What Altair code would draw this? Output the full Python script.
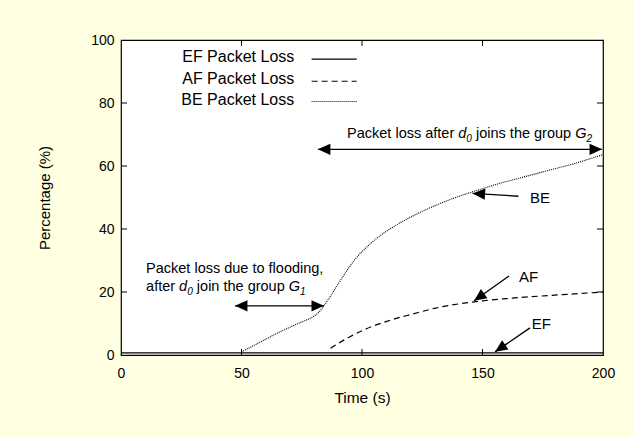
import math
import altair as alt
import pandas as pd

# Packet loss over time (time in s, loss in %)
ef_time = [0, 200]
ef_loss = [0.7, 0.7]

af_time = [87, 90, 95, 100, 105, 110, 115, 120, 130, 140, 150, 160, 170, 180, 190, 200]
af_loss = [2.1, 3.6, 5.8, 7.7, 9.3, 10.6, 11.8, 12.8, 14.8, 16.2, 17.2, 17.9, 18.5, 19.0, 19.5, 20.0]

be_time = [50, 55, 60, 65, 70, 75, 80, 82, 84, 86, 88, 90, 92, 95, 97, 100, 103, 106, 110, 115,
           120, 125, 130, 135, 140, 145, 150, 155, 160, 165, 170, 175, 180, 185, 190, 195, 200]
be_loss = [1.0, 3.0, 5.0, 7.0, 8.8, 10.5, 12.3, 13.5, 15.4, 17.6, 20.0, 22.4, 24.8, 28.2, 30.3,
           32.8, 35.0, 37.0, 39.2, 41.6, 43.7, 45.6, 47.3, 48.9, 50.3, 51.6, 52.8, 54.0, 55.1,
           56.1, 57.1, 58.1, 59.1, 60.1, 61.2, 62.4, 63.6]

x_labels = [0, 50, 100, 150, 200]
y_labels = [0, 20, 40, 60, 80, 100]
x_inner_ticks = [50, 100, 150]
y_inner_ticks = [20, 40, 60, 80]

series_names = ["EF Packet Loss", "AF Packet Loss", "BE Packet Loss"]

W, H = 482, 315
X_MAX, Y_MAX = 200, 100
FONT = "Liberation Sans"
BG = "#FFFFE1"

xs = alt.Scale(domain=[0, X_MAX], nice=False, zero=False)
ys = alt.Scale(domain=[0, Y_MAX], nice=False, zero=False)
x_axis = alt.Axis(values=x_labels, ticks=False, tickSize=0, domain=False, grid=False,
                  labelFontSize=14, labelPadding=11, labelFont=FONT, labelColor="black",
                  labelFlush=False,
                  title="Time (s)", titleFont=FONT, titleFontSize=15.5, titleFontWeight="normal",
                  titleColor="black", titleX=W / 2, titleY=42, titleAlign="center",
                  titleBaseline="middle")
y_axis = alt.Axis(values=y_labels, ticks=False, tickSize=0, domain=False, grid=False,
                  labelFontSize=14, labelPadding=7, labelFont=FONT, labelColor="black",
                  labelFlush=False,
                  title="Percentage (%)", titleFont=FONT, titleFontSize=15, titleFontWeight="normal",
                  titleColor="black", titleX=-77, titleY=H / 2, titleAngle=270,
                  titleAlign="center", titleBaseline="middle")


def X(field="t"):
    return alt.X(f"{field}:Q", scale=xs, axis=x_axis)


def Y(field="v"):
    return alt.Y(f"{field}:Q", scale=ys, axis=y_axis)


def df(**cols):
    return pd.DataFrame(cols)


STYLES = {
    "EF Packet Loss": dict(strokeWidth=1.2),
    "AF Packet Loss": dict(strokeWidth=1.2, strokeDash=[6, 4]),
    "BE Packet Loss": dict(strokeWidth=1.1, strokeDash=[1, 1]),
}

layers = []

# curves
for name, tt, vv in zip(series_names, [ef_time, af_time, be_time], [ef_loss, af_loss, be_loss]):
    layers.append(
        alt.Chart(df(t=tt, v=vv)).mark_line(color="black", interpolate="monotone", **STYLES[name])
        .encode(x=X(), y=Y())
    )

# inward ticks on all four sides
layers.append(alt.Chart(df(t=x_inner_ticks)).mark_rule(color="black", strokeWidth=1)
              .encode(x=X(), y=alt.value(0), y2=alt.value(6)))
layers.append(alt.Chart(df(t=x_inner_ticks)).mark_rule(color="black", strokeWidth=1)
              .encode(x=X(), y=alt.value(H), y2=alt.value(H - 6)))
layers.append(alt.Chart(df(v=y_inner_ticks)).mark_rule(color="black", strokeWidth=1)
              .encode(y=Y(), x=alt.value(0), x2=alt.value(6)))
layers.append(alt.Chart(df(v=y_inner_ticks)).mark_rule(color="black", strokeWidth=1)
              .encode(y=Y(), x=alt.value(W), x2=alt.value(W - 6)))

# key: label on the left, line sample on the right
key_text_t = 71.9
key_line_t = [79.1, 97.8]
key_text_v = [94.5, 87.6, 80.8]
key_line_v = [93.9, 86.9, 80.5]
for name, tv, lv in zip(series_names, key_text_v, key_line_v):
    layers.append(alt.Chart(df(t=[key_text_t], v=[tv], label=[name]))
                  .mark_text(align="right", baseline="middle", fontSize=16, font=FONT, color="black")
                  .encode(x=X(), y=Y(), text="label:N"))
    layers.append(alt.Chart(df(t=key_line_t, v=[lv, lv])).mark_line(color="black", **STYLES[name])
                  .encode(x=X(), y=Y()))

# arrows: (tail t, tail v, tip t, tip v, double-headed)
arrows = [
    (81.7, 65.3, 199.6, 65.3, True),
    (47.3, 15.6, 84.2, 15.6, True),
    (164.9, 50.4, 145.9, 51.3, False),
    (161.0, 25.1, 146.5, 17.2, False),
    (169.7, 8.6, 155.2, 1.0, False),
]


def head_angle(t0, v0, t1, v1):
    dx = (t1 - t0) * W / X_MAX
    dy = -(v1 - v0) * H / Y_MAX
    return math.degrees(math.atan2(dx, -dy)) % 360


shafts = df(t=[a[0] for a in arrows], v=[a[1] for a in arrows],
            t2=[a[2] for a in arrows], v2=[a[3] for a in arrows])
layers.append(alt.Chart(shafts).mark_rule(color="black", strokeWidth=1.3)
              .encode(x=X(), y=Y(), x2="t2:Q", y2="v2:Q"))

head_t, head_v, head_a = [], [], []
for t0, v0, t1, v1, both in arrows:
    head_t.append(t1); head_v.append(v1); head_a.append(head_angle(t0, v0, t1, v1))
    if both:
        head_t.append(t0); head_v.append(v0); head_a.append(head_angle(t1, v1, t0, v0))

ARROW_HEAD = "M0,0L-0.45,1L0.45,1Z"
layers.append(alt.Chart(df(t=head_t, v=head_v, ang=head_a))
              .mark_point(shape=ARROW_HEAD, filled=True, size=620, color="black", opacity=1, strokeWidth=0)
              .encode(x=X(), y=Y(), angle=alt.Angle("ang:Q", scale=None)))

# short labels at the arrow tails
tag_text = ["BE", "AF", "EF"]
tag_t = [169.7, 165.1, 170.4]
tag_v = [50.0, 24.8, 9.8]
layers.append(alt.Chart(df(t=tag_t, v=tag_v, label=tag_text))
              .mark_text(align="left", baseline="middle", fontSize=15, font=FONT, color="black")
              .encode(x=X(), y=Y(), text="label:N"))

# annotation text with italic symbols and subscripts
ARIAL = {" ": 278, "a": 556, "b": 556, "c": 500, "d": 556, "e": 556, "f": 278, "g": 556,
         "h": 556, "i": 222, "j": 222, "k": 500, "l": 222, "m": 833, "n": 556, "o": 556,
         "p": 556, "r": 333, "s": 500, "t": 278, "u": 556, "P": 667, "G": 778, ",": 278}


def text_width(s, size):
    return sum(ARIAL.get(c, 556) for c in s) * size / 1000


def rich_text(t, v, parts, size):
    out = []
    dx = 0.0
    for txt, kind in parts:
        fs = size * 0.7 if kind == "sub" else size
        lead = len(txt) - len(txt.lstrip(" "))
        out.append(
            alt.Chart(df(t=[t], v=[v], label=[txt.strip(" ")]))
            .mark_text(align="left", baseline="alphabetic", dx=dx + text_width(" " * lead, fs),
                       dy=size * 0.25 if kind == "sub" else 0, fontSize=fs,
                       fontStyle="normal" if kind == "normal" else "italic",
                       font=FONT, color="black")
            .encode(x=X(), y=Y(), text="label:N")
        )
        dx += text_width(txt, fs)
    return out


NOTE = 14.5
layers += rich_text(93.8, 68.8, [("Packet loss after ", "normal"), ("d", "italic"), ("0", "sub"),
                                 (" joins the group ", "normal"), ("G", "italic"), ("2", "sub")], NOTE)
layers += rich_text(10.4, 25.9, [("Packet loss due to flooding,", "normal")], NOTE)
layers += rich_text(10.4, 20.3, [("after ", "normal"), ("d", "italic"), ("0", "sub"),
                                 (" join the group ", "normal"), ("G", "italic"), ("1", "sub")], NOTE)

chart = (
    alt.layer(*layers)
    .properties(width=W, height=H, background=BG,
                padding={"left": 121, "top": 40, "right": 31, "bottom": 82},
                autosize=alt.AutoSizeParams(type="none"))
    .configure_view(stroke="black", strokeWidth=1.2, fill="white")
)

chart.save("out.html", embed_options={"renderer": "svg", "actions": False})
